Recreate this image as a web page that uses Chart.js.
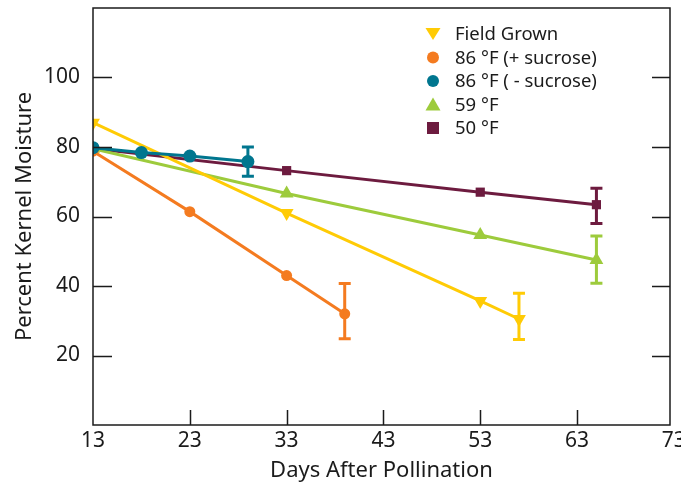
<!DOCTYPE html>
<html>
<head>
<meta charset="utf-8">
<script src="https://cdn.jsdelivr.net/npm/chart.js@4.4.0/dist/chart.umd.min.js"></script>
<style>
  html, body { margin: 0; padding: 0; background: #fff; }
  #wrap { width: 681px; height: 486px; }
</style>
</head>
<body>
<div id="wrap"><canvas id="kernel"></canvas></div>
<script>
// values
var xTicks = [13, 23, 33, 43, 53, 63, 73];
var yTicks = [20, 40, 60, 80, 100];

var seriesNames = ['Field Grown', '86 °F (+ sucrose)', '86 °F ( - sucrose)', '59 °F', '50 °F'];

var fieldDays = [13, 33, 53, 57];
var fieldMoist = [87, 61, 35.7, 30.5];
var fieldErr = [null, null, null, [24.6, 37.9]];

var plusDays = [13, 23, 33, 39];
var plusMoist = [78.8, 61.4, 43, 32];
var plusErr = [null, null, null, [24.8, 40.7]];

var minusDays = [13, 18, 23, 29];
var minusMoist = [79.8, 78.4, 77.4, 75.8];
var minusErr = [null, null, null, [71.6, 80]];

var d59Days = [13, 33, 53, 65];
var d59Moist = [79.5, 66.6, 54.7, 47.5];
var d59Err = [null, null, null, [40.8, 54.4]];

var d50Days = [13, 33, 53, 65];
var d50Moist = [79.6, 73.2, 67, 63.4];
var d50Err = [null, null, null, [58, 68.1]];

var FONT = '"Noto Sans", sans-serif';
var INK = '#1b1b1b';

function pts(xs, ys) {
    return xs.map(function(x, i){ return {x: x, y: ys[i]}; });
}

function makeSet(idx, xs, ys, err, color, style, radius, order) {
    return {
        label: seriesNames[idx],
        data: pts(xs, ys),
        errBars: err,
        borderColor: color,
        backgroundColor: color,
        borderWidth: 3,
        pointStyle: style,
        pointRadius: radius,
        pointBorderWidth: 0,
        pointRotation: style === 'triangle' && idx === 0 ? 180 : 0,
        tension: 0,
        fill: false,
        order: order
    };
}

var errorBars = {
    id: 'errorBars',
    afterDatasetsDraw: function(chart) {
        var ctx = chart.ctx;
        var xs = chart.scales.x, ys = chart.scales.y;
        chart.data.datasets.forEach(function(ds) {
            ds.errBars.forEach(function(e, i) {
                if (!e) return;
                var px = xs.getPixelForValue(ds.data[i].x);
                var lo = ys.getPixelForValue(e[0]);
                var hi = ys.getPixelForValue(e[1]);
                ctx.save();
                ctx.strokeStyle = ds.borderColor;
                ctx.lineWidth = 3;
                ctx.beginPath();
                ctx.moveTo(px, lo); ctx.lineTo(px, hi);
                ctx.moveTo(px - 6, lo); ctx.lineTo(px + 6, lo);
                ctx.moveTo(px - 6, hi); ctx.lineTo(px + 6, hi);
                ctx.stroke();
                ctx.restore();
            });
        });
    }
};

var frameTicks = {
    id: 'frameTicks',
    afterDraw: function(chart) {
        var ctx = chart.ctx, a = chart.chartArea;
        var xs = chart.scales.x, ys = chart.scales.y;
        ctx.save();
        ctx.strokeStyle = INK;
        ctx.lineWidth = 1.5;
        ctx.strokeRect(a.left, a.top, a.right - a.left, a.bottom - a.top);
        ctx.beginPath();
        yTicks.forEach(function(v) {
            var py = Math.round(ys.getPixelForValue(v)) + 0.5;
            ctx.moveTo(a.left, py); ctx.lineTo(a.left + 19, py);
            ctx.moveTo(a.right, py); ctx.lineTo(a.right - 18, py);
        });
        xTicks.forEach(function(v) {
            var px = Math.round(xs.getPixelForValue(v)) + 0.5;
            if (px <= a.left + 2 || px >= a.right - 2) return;
            ctx.moveTo(px, a.bottom); ctx.lineTo(px, a.bottom - 15);
        });
        ctx.stroke();
        ctx.restore();
    }
};

var boxLegend = {
    id: 'boxLegend',
    afterDraw: function(chart) {
        var ctx = chart.ctx;
        var mx = 433, tx = 455, y0 = 34, step = 23.5;
        ctx.save();
        ctx.font = '18.5px ' + FONT;
        ctx.textBaseline = 'middle';
        chart.data.datasets.forEach(function(ds, i) {
            var y = y0 + i * step;
            ctx.fillStyle = ds.borderColor;
            ctx.beginPath();
            if (ds.pointStyle === 'circle') {
                ctx.arc(mx, y, 6, 0, Math.PI * 2);
            } else if (ds.pointStyle === 'rect') {
                ctx.rect(mx - 6, y - 6, 12, 12);
            } else if (ds.pointRotation === 180) {
                ctx.moveTo(mx - 7.5, y - 6); ctx.lineTo(mx + 7.5, y - 6); ctx.lineTo(mx, y + 6);
            } else {
                ctx.moveTo(mx - 7.5, y + 6); ctx.lineTo(mx + 7.5, y + 6); ctx.lineTo(mx, y - 7);
            }
            ctx.closePath();
            ctx.fill();
            ctx.fillStyle = INK;
            ctx.fillText(ds.label, tx, y + 1);
        });
        ctx.restore();
    }
};

var ctx = document.getElementById('kernel');

var chart = new Chart(ctx, {
    type: 'line',
    data: {
        datasets: [
            makeSet(0, fieldDays, fieldMoist, fieldErr, '#FFCB05', 'triangle', 8, 2),
            makeSet(1, plusDays, plusMoist, plusErr, '#F47B20', 'circle', 5.5, 1),
            makeSet(2, minusDays, minusMoist, minusErr, '#00768F', 'circle', 6.5, 0),
            makeSet(3, d59Days, d59Moist, d59Err, '#9DCB3C', 'triangle', 8, 3),
            makeSet(4, d50Days, d50Moist, d50Err, '#6D1B3F', 'rect', 6.5, 4)
        ]
    },
    options: {
        responsive: true,
        maintainAspectRatio: false,
        animation: false,
        layout: { padding: { top: 8, right: 11, left: 0, bottom: 0 } },
        plugins: {
            legend: { display: false },
            tooltip: { enabled: false }
        },
        scales: {
            x: {
                type: 'linear',
                min: 13,
                max: 72.6,
                grid: { display: false, drawTicks: false },
                border: { display: false },
                afterBuildTicks: function(s) { s.ticks = xTicks.map(function(v){ return {value: v}; }); },
                afterFit: function(s) { s.height = 61; s.paddingLeft = 0; s.paddingRight = 0; },
                ticks: { color: INK, font: { family: FONT, size: 21 }, padding: 3, maxRotation: 0 },
                title: { display: true, text: 'Days After Pollination', color: INK,
                         font: { family: FONT, size: 22 }, padding: { top: 0, bottom: 2 } }
            },
            y: {
                min: 0,
                max: 120,
                grid: { display: false, drawTicks: false },
                border: { display: false },
                afterBuildTicks: function(s) { s.ticks = yTicks.map(function(v){ return {value: v}; }); },
                afterFit: function(s) { s.width = 93; s.paddingTop = 0; s.paddingBottom = 0; },
                ticks: { color: INK, font: { family: FONT, size: 21 }, padding: 13 },
                title: { display: true, text: 'Percent Kernel Moisture', color: INK,
                         font: { family: FONT, size: 22 }, padding: { top: 12, bottom: 0 } }
            }
        }
    },
    plugins: [errorBars, frameTicks, boxLegend]
});
</script>
</body>
</html>
